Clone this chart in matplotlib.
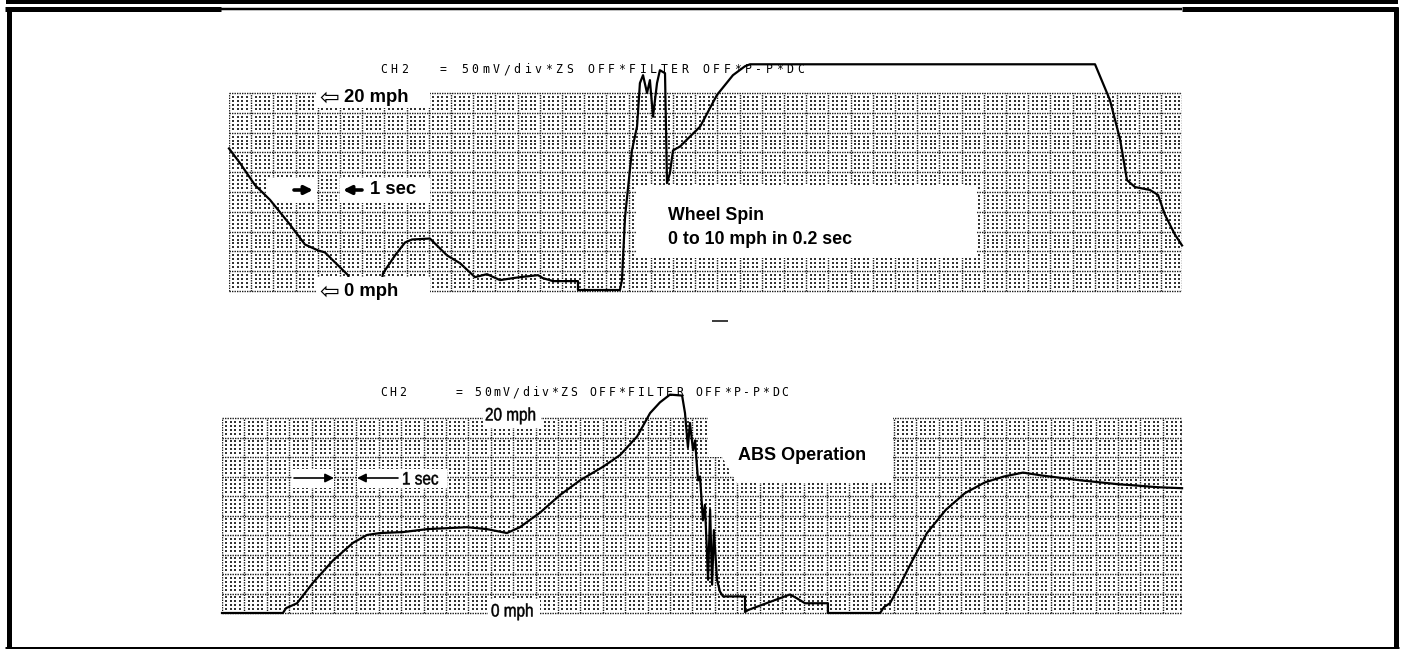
import numpy as np
import matplotlib
matplotlib.use("Agg")
import matplotlib.pyplot as plt
from matplotlib.patches import Rectangle, Polygon, PathPatch
from matplotlib.lines import Line2D
from matplotlib.textpath import TextPath
from matplotlib.font_manager import FontProperties
from matplotlib.transforms import Affine2D

# ---------------- data (time in seconds, speed in mph) ----------------
top_time = [0.00, 0.50, 1.17, 1.85, 2.75, 3.42, 4.01, 4.32, 4.77, 5.36, 5.59, 6.80,
            6.94, 7.48, 7.93, 8.24, 9.05, 9.82, 10.41, 11.08, 11.62, 12.21, 12.79,
            13.11, 13.92, 14.14, 14.59, 15.72, 15.72, 17.61, 17.70, 17.84, 18.15,
            18.38, 18.51, 18.65, 18.83, 18.96, 19.10, 19.28, 19.41, 19.64, 19.73,
            19.86, 20.00, 20.32, 20.63, 21.22, 21.98, 22.70, 23.24, 23.47, 39.01,
            39.68, 40.14, 40.45, 40.81, 41.49, 41.85, 42.16, 42.61, 42.93]
top_speed = [14.4, 12.9, 10.7, 9.2, 6.7, 4.7, 4.1, 3.9, 2.9, 1.6, 0.0, 0.0,
             1.8, 3.6, 4.9, 5.2, 5.3, 3.6, 2.8, 1.4, 1.7, 1.1, 1.3,
             1.4, 1.6, 1.3, 1.0, 1.0, 0.1, 0.1, 1.1, 7.5, 14.2,
             16.6, 21.0, 21.8, 20.0, 21.3, 17.6, 21.0, 22.3, 22.0, 10.9,
             11.9, 14.2, 14.6, 15.3, 16.6, 19.8, 21.8, 22.7, 22.9, 22.9,
             19.3, 15.3, 11.2, 10.5, 10.2, 9.7, 7.7, 5.7, 4.6]

bottom_time = [0.00, 2.72, 2.86, 3.35, 4.06, 4.96, 5.85, 6.47, 7.05, 8.08, 9.15,
               10.04, 10.94, 11.83, 12.72, 13.30, 14.20, 15.09, 15.98, 17.01, 17.77,
               18.53, 19.11, 19.55, 20.00, 20.54, 20.67, 20.80, 20.89, 21.03, 21.12,
               21.25, 21.34, 21.47, 21.56, 21.70, 21.79, 21.88, 21.96, 22.10, 22.23,
               22.37, 23.35, 23.35, 23.48, 25.36, 25.67, 26.03, 27.05, 27.05, 29.38,
               29.55, 29.82, 30.27, 30.71, 31.47, 32.32, 33.17, 34.06, 34.91, 35.76,
               36.61, 38.35, 40.04, 40.67, 41.79, 42.86]
bottom_speed = [0.0, 0.0, 0.5, 1.0, 3.1, 5.4, 7.2, 8.0, 8.2, 8.3, 8.6,
                8.7, 8.8, 8.6, 8.2, 8.8, 10.3, 12.1, 13.6, 15.0, 16.2,
                18.1, 20.5, 21.6, 22.4, 22.3, 20.5, 17.0, 19.5, 16.7, 17.7,
                13.6, 14.0, 9.5, 11.1, 3.4, 10.6, 2.9, 8.5, 3.4, 2.2,
                1.7, 1.7, 0.1, 0.3, 1.9, 1.5, 1.0, 1.0, 0.0, 0.0,
                0.6, 1.0, 2.9, 4.9, 8.2, 10.6, 12.3, 13.4, 14.0, 14.4,
                14.1, 13.6, 13.2, 13.1, 12.9, 12.8]

scope_header = "= 50mV/div*ZS OFF*FILTER OFF*P-P*DC"
channel_label = "CH2"
top_annotation = ["Wheel Spin", "0 to 10 mph in 0.2 sec"]
bottom_annotation = "ABS Operation"
speed_labels = ["20 mph", "0 mph"]
time_label = "1 sec"

# ---------------- figure ----------------
W, H = 1401, 649
fig = plt.figure(figsize=(W / 100, H / 100), dpi=100)
fig.patch.set_facecolor("white")


class Panel:
    """Axes whose data units are seconds / mph, placed by pixel box."""

    def __init__(self, px_left, px_right, py_top, py_bot, x0, sx, y0, sy):
        self.x0, self.sx, self.y0, self.sy = x0, sx, y0, sy
        self.ax = fig.add_axes([px_left / W, 1 - py_bot / H,
                                (px_right - px_left) / W, (py_bot - py_top) / H])
        self.ax.set_xlim(self.t(px_left), self.t(px_right))
        self.ax.set_ylim(self.v(py_bot), self.v(py_top))
        self.ax.axis("off")
        self.ax.patch.set_alpha(0)

    def t(self, x):
        return (x - self.x0) / self.sx

    def v(self, y):
        return (self.y0 - y) / self.sy

    def p(self, x, y):
        return self.t(x), self.v(y)

    def rect(self, x1, y1, x2, y2, z=2):
        t1, v2 = self.p(x1, y2)
        t2, v1 = self.p(x2, y1)
        self.ax.add_patch(Rectangle((t1, v2), t2 - t1, v1 - v2, facecolor="white",
                                    edgecolor="none", zorder=z))

    def poly(self, pts, z=2):
        self.ax.add_patch(Polygon([self.p(x, y) for x, y in pts], closed=True,
                                  facecolor="white", edgecolor="none", zorder=z))

    def grid(self, t_end, n_rows=10, mph_per_row=2.0):
        ax = self.ax
        vmax = n_rows * mph_per_row
        xs = list(np.arange(0, int(t_end) + 1)) + [t_end]
        for x in xs:
            ax.plot([x, x], [0, vmax], color="0.1", lw=1.0, ls=(0, (1.0, 0.8)), zorder=1)
        for k in range(n_rows + 1):
            y = k * mph_per_row
            ax.plot([0, t_end], [y, y], color="0.1", lw=1.0, ls=(0, (1.0, 0.8)), zorder=1)
        tx = []
        for c in range(int(np.ceil(t_end))):
            for j in range(1, 5):
                v = c + j / 5
                if v < t_end:
                    tx.append(v)
        vy = [r * mph_per_row + i * mph_per_row / 5 for r in range(n_rows) for i in range(1, 5)]
        TX, VY = np.meshgrid(tx, vy)
        ax.scatter(TX.ravel(), VY.ravel(), s=1.6, marker="s", color="0.2",
                   linewidths=0, zorder=1)

    def text(self, x, y, s, **kw):
        t, v = self.p(x, y)
        kw.setdefault("zorder", 6)
        self.ax.text(t, v, s, clip_on=False, **kw)

    def header(self, x_ch, x_eq, y, pitch):
        for i, ch in enumerate(channel_label):
            self.text(x_ch + i * pitch, y, ch, fontsize=8.3, family="DejaVu Sans Mono",
                      ha="left", va="center", color="black")
        for i, ch in enumerate(scope_header):
            self.text(x_eq + i * pitch, y, ch, fontsize=8.3, family="DejaVu Sans Mono",
                      ha="left", va="center", color="black")


def narrow_text(x, y, s, size_px=18, xscale=0.85):
    """Condensed label drawn in figure pixels (left x, centre y, y measured from top)."""
    tp = TextPath((0, 0), s, size=size_px,
                  prop=FontProperties(family="Liberation Sans"))
    tr = Affine2D().scale(xscale, 1.0).translate(x, H - y - 0.36 * size_px)
    fig.add_artist(PathPatch(tp, transform=tr, facecolor="black", edgecolor="black",
                             lw=0.35, zorder=5))


# ---------------- top panel ----------------
top = Panel(229, 1182, 40, 305, x0=229, sx=22.2, y0=291, sy=9.9)
top.grid(top.t(1182))
top.rect(317, 84, 430, 108)            # 20 mph label
top.rect(266, 178, 317, 203)           # arrow label
top.rect(340, 178, 430, 203)
top.rect(636, 185, 976, 258)           # wheel spin label
top.rect(317, 277, 430, 302, z=4)      # 0 mph label (covers trace)
top.ax.plot(top_time, top_speed, color="black", lw=1.6, zorder=3,
            solid_joinstyle="round", clip_on=False)

bold = dict(family="Liberation Sans", fontweight="bold", color="black")
top.text(319, 98, "\u21e6", fontsize=17, family="DejaVu Sans", ha="left", va="center")
top.text(344, 98, speed_labels[0], fontsize=13.3, ha="left", va="center", **bold)
top.text(319, 292, "\u21e6", fontsize=17, family="DejaVu Sans", ha="left", va="center")
top.text(344, 292, speed_labels[1], fontsize=13.3, ha="left", va="center", **bold)
top.ax.annotate("", xy=top.p(313, 190), xytext=top.p(294, 190),
                arrowprops=dict(arrowstyle="-|>", lw=2.6, color="black",
                                mutation_scale=12, shrinkA=0, shrinkB=0), zorder=6)
top.ax.annotate("", xy=top.p(343, 190), xytext=top.p(362, 190),
                arrowprops=dict(arrowstyle="-|>", lw=2.6, color="black",
                                mutation_scale=12, shrinkA=0, shrinkB=0), zorder=6)
top.text(370, 190, time_label, fontsize=13.3, ha="left", va="center", **bold)
top.text(668, 215, top_annotation[0], fontsize=12.8, ha="left", va="center", **bold)
top.text(668, 239, top_annotation[1], fontsize=12.8, ha="left", va="center", **bold)
top.header(380, 440, 70, 10.5)

# ---------------- bottom panel ----------------
bot = Panel(222, 1182, 380, 630, x0=222, sx=22.4, y0=613, sy=9.75)
bot.grid(bot.t(1182))
bot.rect(483, 400, 541, 428)           # 20 mph label
bot.rect(292, 469, 334, 488)           # arrow label
bot.rect(357, 469, 447, 488)
bot.rect(488, 599, 540, 626)           # 0 mph label
bot.poly([(708, 398), (708, 457), (722, 457), (737, 483), (893, 483), (893, 398)])
bot.ax.plot(bottom_time, bottom_speed, color="black", lw=1.6, zorder=3,
            solid_joinstyle="round", clip_on=False)

narrow_text(485, 414, speed_labels[0])
narrow_text(491, 610, speed_labels[1])
bot.ax.annotate("", xy=bot.p(334, 478), xytext=bot.p(294, 478),
                arrowprops=dict(arrowstyle="-|>", lw=1.2, color="black",
                                mutation_scale=13, shrinkA=0, shrinkB=0), zorder=6)
bot.ax.annotate("", xy=bot.p(357, 478), xytext=bot.p(398, 478),
                arrowprops=dict(arrowstyle="-|>", lw=1.2, color="black",
                                mutation_scale=13, shrinkA=0, shrinkB=0), zorder=6)
narrow_text(402, 478, time_label)
bot.text(738, 456, bottom_annotation, fontsize=13, ha="left", va="center", **bold)
bot.header(380, 455, 393, 9.6)

# ---------------- page frame ----------------
def hline(x1, x2, y, lw_px):
    fig.add_artist(Line2D([x1 / W, x2 / W], [1 - y / H, 1 - y / H],
                          transform=fig.transFigure, color="black",
                          lw=lw_px * 0.72, solid_capstyle="butt"))


def vline(x, y1, y2, lw_px):
    fig.add_artist(Line2D([x / W, x / W], [1 - y1 / H, 1 - y2 / H],
                          transform=fig.transFigure, color="black",
                          lw=lw_px * 0.72, solid_capstyle="butt"))


hline(6, 1398, 2, 4)
hline(5, 221, 9.3, 5)
hline(221, 1182, 9.3, 2.5)
hline(1182, 1398, 9.3, 5)
vline(8.5, 7, 649, 5)
vline(1396, 7, 649, 5)
hline(5, 1399, 647.5, 3)
hline(712, 728, 321, 1.5)

fig.savefig("out.png", dpi=100, facecolor="white")
